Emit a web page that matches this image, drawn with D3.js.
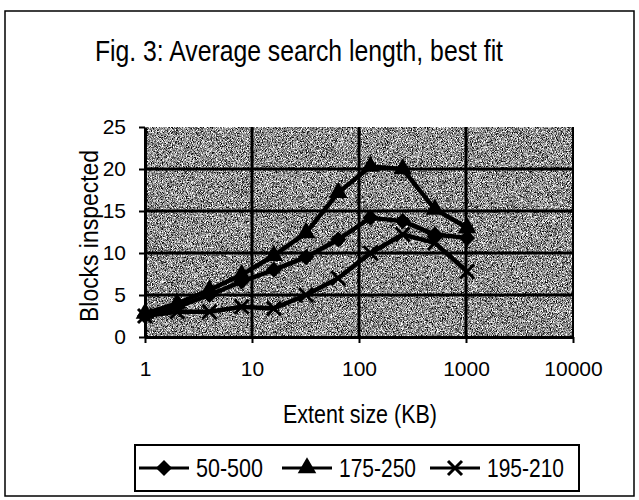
<!DOCTYPE html>
<html><head><meta charset="utf-8">
<script src="https://cdn.jsdelivr.net/npm/d3@7"></script>
<style>
html,body{margin:0;padding:0;background:#fff;}
text{font-family:"Liberation Sans",Arial,sans-serif;fill:#000;}
.nar{font-family:"Liberation Sans Narrow","Arial Narrow","Liberation Sans",Arial,sans-serif;}
</style></head>
<body><svg id="c" width="639" height="500"></svg>
<script>
const extentSizes=[1,2,4,8,16,32,64,128,256,512,1024];
const s50_500=[2.5,3.6,5.0,6.6,8.0,9.5,11.6,14.2,13.8,12.2,11.8];
const s175_250=[2.8,4.0,5.6,7.4,9.7,12.4,17.2,20.3,20.0,15.2,13.0];
const s195_210=[2.5,3.0,3.0,3.6,3.4,5.0,7.0,10.0,12.2,11.2,7.8];
const seriesNames=["50-500","175-250","195-210"];
const markerKinds=["diamond","triangle","x"];
const xTicks=[1,10,100,1000,10000];
const yTicks=[0,5,10,15,20,25];
const titleText="Fig. 3: Average search length, best fit";
const xTitle="Extent size (KB)";
const yTitle="Blocks inspected";

const series=[s50_500,s175_250,s195_210];
const svg=d3.select("#c");
const defs=svg.append("defs");
const f=defs.append("filter").attr("id","grain").attr("x",0).attr("y",0).attr("width",1).attr("height",1)
  .attr("color-interpolation-filters","sRGB");
f.append("feTurbulence").attr("type","fractalNoise").attr("baseFrequency",1.2).attr("numOctaves",1).attr("seed",5);
f.append("feColorMatrix").attr("type","matrix").attr("values","1.2 1.2 1.2 0 -1.3 1.2 1.2 1.2 0 -1.3 1.2 1.2 1.2 0 -1.3 0 0 0 0 1");
const ct=f.append("feComponentTransfer");
["feFuncR","feFuncG","feFuncB"].forEach(n=>ct.append(n).attr("type","discrete").attr("tableValues","0.05 0.3 0.56 0.8 1"));

// outer frame
svg.append("rect").attr("x",5).attr("y",11).attr("width",629).attr("height",485)
  .attr("fill","#fff").attr("stroke","#000").attr("stroke-width",1.5);

const x=d3.scaleLog().domain([1,10000]).range([145,573]);
const y=d3.scaleLinear().domain([0,25]).range([337,127]);

// plot background
svg.append("rect").attr("x",x(1)).attr("y",y(25)).attr("width",x(10000)-x(1)).attr("height",y(0)-y(25))
  .attr("fill","#808080").attr("filter","url(#grain)");

// gridlines
svg.append("g").selectAll("line").data(yTicks.filter(d=>d>0&&d<25)).join("line")
  .attr("x1",x(1)).attr("x2",x(10000)).attr("y1",d=>y(d)).attr("y2",d=>y(d))
  .attr("stroke","#000").attr("stroke-width",3);
svg.append("g").selectAll("line").data(xTicks.filter(d=>d>1)).join("line")
  .attr("y1",y(0)).attr("y2",y(25)).attr("x1",d=>x(d)).attr("x2",d=>x(d))
  .attr("stroke","#000").attr("stroke-width",d=>d===10000?2:3);

// axes
const gx=svg.append("g").attr("transform",`translate(0,${y(0)})`)
  .call(d3.axisBottom(x).tickValues(xTicks).tickFormat(d3.format("d")).tickSize(6).tickSizeOuter(0).tickPadding(18));
const gy=svg.append("g").attr("transform",`translate(${x(1)},0)`)
  .call(d3.axisLeft(y).tickValues(yTicks).tickSize(6).tickSizeOuter(0).tickPadding(13));
[gx,gy].forEach(g=>{
  g.select(".domain").attr("stroke","#000").attr("stroke-width",3);
  g.selectAll(".tick line").attr("stroke","#000").attr("stroke-width",2);
  g.selectAll(".tick text").attr("font-size",21).attr("font-family","Liberation Sans, Arial, sans-serif").attr("fill","#000");
});

function drawMarker(g,kind,cx,cy){
  if(kind==="diamond"){
    g.append("path").attr("d",d3.symbol(d3.symbolSquare,130)()).attr("transform",`translate(${cx},${cy}) rotate(45)`).attr("fill","#000");
  } else if(kind==="triangle"){
    g.append("path").attr("d",d3.symbol(d3.symbolTriangle,150)()).attr("transform",`translate(${cx},${cy})`).attr("fill","#000");
  } else {
    g.append("path").attr("d","M-7,-7L7,7M-7,7L7,-7").attr("transform",`translate(${cx},${cy})`)
      .attr("stroke","#000").attr("stroke-width",3).attr("fill","none");
  }
}

const line=d3.line().x((d,i)=>x(extentSizes[i])).y(d=>y(d));
series.forEach((vals,si)=>{
  const g=svg.append("g");
  g.append("path").datum(vals).attr("d",line).attr("fill","none").attr("stroke","#000").attr("stroke-width",4.5);
  vals.forEach((v,i)=>drawMarker(g,markerKinds[si],x(extentSizes[i]),y(v)));
});

// title
svg.append("text").attr("class","nar").attr("x",299).attr("y",61).attr("text-anchor","middle").attr("font-size",29)
  .attr("textLength",408).attr("lengthAdjust","spacingAndGlyphs").text(titleText);
// axis titles
svg.append("text").attr("class","nar").attr("x",360).attr("y",423).attr("text-anchor","middle").attr("font-size",25)
  .attr("textLength",154).attr("lengthAdjust","spacingAndGlyphs").text(xTitle);
svg.append("text").attr("class","nar").attr("transform","translate(98,236) rotate(-90)").attr("text-anchor","middle").attr("font-size",25)
  .attr("textLength",172).attr("lengthAdjust","spacingAndGlyphs").text(yTitle);

// legend
const lg=svg.append("g");
lg.append("rect").attr("x",135).attr("y",445).attr("width",444).attr("height",46).attr("fill","#fff").attr("stroke","#000").attr("stroke-width",2);
const legCx=[164,307,455];
const legW=[67,77,77];
seriesNames.forEach((n,i)=>{
  const cx=legCx[i], cy=468;
  lg.append("line").attr("x1",cx-25).attr("x2",cx+25).attr("y1",cy).attr("y2",cy).attr("stroke","#000").attr("stroke-width",3);
  drawMarker(lg,markerKinds[i],cx,cy);
  lg.append("text").attr("class","nar").attr("x",cx+32).attr("y",cy+8.5).attr("font-size",25)
    .attr("textLength",legW[i]).attr("lengthAdjust","spacingAndGlyphs").text(n);
});
</script></body></html>
